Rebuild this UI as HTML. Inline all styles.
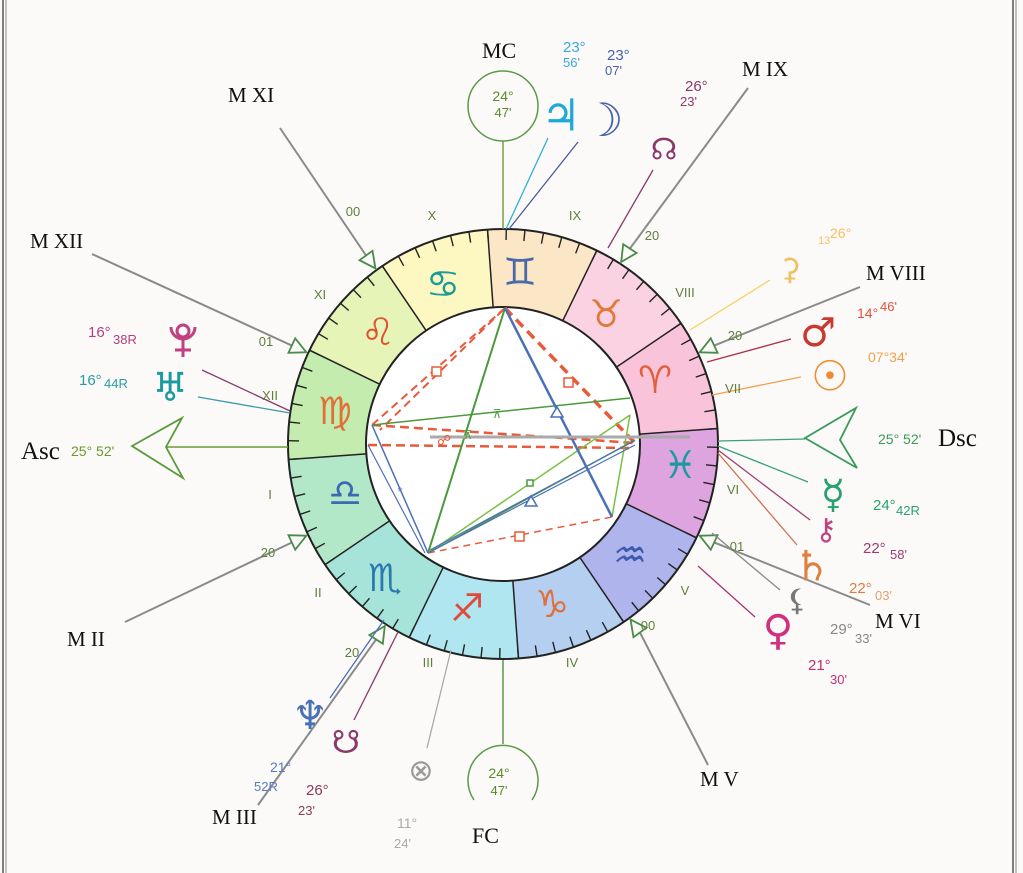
<!DOCTYPE html>
<html><head><meta charset="utf-8"><style>
html,body{margin:0;padding:0;background:#fbfaf8;}
svg{display:block}
.lab{font-family:"Liberation Serif",serif;font-size:21px;fill:#111}
.s{font-family:"Liberation Sans",sans-serif;font-size:13px}
.h{font-family:"Liberation Sans",sans-serif;font-size:13px;fill:#5f7f3a}
.g{font-family:"DejaVu Sans",sans-serif;text-anchor:middle;dominant-baseline:central}
</style></head><body>
<svg id="c" width="1023" height="873" viewBox="0 0 1023 873" xmlns="http://www.w3.org/2000/svg">
<rect width="1023" height="873" fill="#fbfaf8"/>
<line x1="3" y1="0" x2="3" y2="873" stroke="#555" stroke-width="1.5"/>
<line x1="6" y1="0" x2="6" y2="873" stroke="#888" stroke-width="1"/>
<line x1="1013" y1="0" x2="1013" y2="873" stroke="#555" stroke-width="1.5"/>
<line x1="1016" y1="0" x2="1016" y2="873" stroke="#888" stroke-width="1"/>
<g id="ring"></g>
<g id="asp" fill="none">
 <line x1="505" y1="308" x2="372" y2="425" stroke="#e85a3a" stroke-width="2" stroke-dasharray="8,5"/>
 <line x1="503" y1="310" x2="380" y2="430" stroke="#e85a3a" stroke-width="2" stroke-dasharray="8,5"/>
 <line x1="505" y1="308" x2="635" y2="443" stroke="#e85a3a" stroke-width="3.5" stroke-dasharray="10,6"/>
 <line x1="372" y1="425" x2="635" y2="443" stroke="#e85a3a" stroke-width="2.5" stroke-dasharray="9,5"/>
 <line x1="368" y1="445" x2="633" y2="448" stroke="#e85a3a" stroke-width="2.5" stroke-dasharray="9,5"/>
 <line x1="428" y1="553" x2="612" y2="517" stroke="#e85a3a" stroke-width="1.5" stroke-dasharray="7,5"/>
 <line x1="505" y1="308" x2="428" y2="553" stroke="#4a9a3a" stroke-width="2"/>
 <line x1="372" y1="425" x2="630" y2="398" stroke="#4a9a3a" stroke-width="1.5"/>
 <line x1="428" y1="553" x2="630" y2="415" stroke="#7ac040" stroke-width="1.5"/>
 <line x1="428" y1="553" x2="635" y2="440" stroke="#4a9a3a" stroke-width="1.5"/>
 <line x1="612" y1="517" x2="630" y2="415" stroke="#7ac040" stroke-width="1.5"/>
 <line x1="505" y1="308" x2="612" y2="517" stroke="#4a70b8" stroke-width="2.5"/>
 <line x1="372" y1="425" x2="428" y2="553" stroke="#4a70b8" stroke-width="1.5"/>
 <line x1="368" y1="445" x2="425" y2="553" stroke="#4a70b8" stroke-width="1.2"/>
 <line x1="428" y1="553" x2="635" y2="445" stroke="#4a70b8" stroke-width="1.2"/>
 <line x1="430" y1="550" x2="634" y2="441" stroke="#4a70b8" stroke-width="1.2"/>
 <line x1="430" y1="437" x2="690" y2="437" stroke="#aaa" stroke-width="3"/>
 <rect x="432" y="367" width="9" height="9" stroke="#e85a3a" stroke-width="1.5" fill="#fff"/>
 <rect x="564" y="378" width="9" height="9" stroke="#e85a3a" stroke-width="1.5" fill="#fff"/>
 <rect x="515" y="532" width="9" height="9" stroke="#e85a3a" stroke-width="1.5" fill="#fff"/>
 <polygon points="557,407 551,417 563,417" stroke="#4a70b8" stroke-width="1.5" fill="#fff"/>
 <polygon points="531,496 525,506 537,506" stroke="#4a70b8" stroke-width="1.5" fill="#fff"/>
 <rect x="527" y="480" width="6" height="6" stroke="#4a9a3a" stroke-width="1.5" fill="#fff"/>
 <text x="437" y="445" class="s" fill="#e85a3a" style="font-size:14px">☍</text>
 <text x="497" y="418" class="s" fill="#4a9a3a" style="font-size:12px" text-anchor="middle">⊼</text>
 <text x="468" y="439" class="s" fill="#4a9a3a" style="font-size:12px" text-anchor="middle">⊼</text>
 <text x="400" y="496" class="s" fill="#4a70b8" style="font-size:13px" text-anchor="middle">*</text>
</g>
<g id="marks"></g>
<g stroke-width="1.3" fill="none">
 <line x1="506" y1="229" x2="548" y2="138" stroke="#30b0d8"/>
 <line x1="509" y1="229" x2="578" y2="142" stroke="#4a5a98"/>
 <line x1="608" y1="248" x2="653" y2="170" stroke="#8a3a6a"/>
 <line x1="690" y1="330" x2="770" y2="280" stroke="#f5d060"/>
 <line x1="707" y1="362" x2="791" y2="339" stroke="#a83040"/>
 <line x1="712" y1="395" x2="801" y2="377" stroke="#f0a050"/>
 <line x1="718" y1="441" x2="805" y2="439" stroke="#3aa080"/>
 <line x1="718" y1="446" x2="808" y2="482" stroke="#3aa080"/>
 <line x1="718" y1="450" x2="810" y2="520" stroke="#a04070"/>
 <line x1="718" y1="453" x2="797" y2="545" stroke="#d07050"/>
 <line x1="712" y1="533" x2="780" y2="590" stroke="#888"/>
 <line x1="698" y1="566" x2="755" y2="617" stroke="#b03070"/>
 <line x1="290" y1="411" x2="202" y2="370" stroke="#8a3a6a"/>
 <line x1="290" y1="413" x2="198" y2="397" stroke="#3a9aa8"/>
 <line x1="384" y1="620" x2="330" y2="698" stroke="#4a70b8"/>
 <line x1="398" y1="632" x2="354" y2="720" stroke="#8a3a6a"/>
 <line x1="451" y1="650" x2="427" y2="748" stroke="#aaa"/>
</g>
<line x1="503" y1="141" x2="503" y2="229" stroke="#7aa040" stroke-width="1.5"/>
<circle cx="503" cy="106" r="35" fill="none" stroke="#5a9a4a" stroke-width="1.5"/>
<text x="503" y="101" class="s" fill="#5a8a2a" text-anchor="middle" style="font-size:14px">24°</text>
<text x="503" y="117" class="s" fill="#5a8a2a" text-anchor="middle" style="font-size:13px">47'</text>
<line x1="503" y1="660" x2="503" y2="744" stroke="#5a9a4a" stroke-width="1.5"/>
<path d="M 474 800 A 35 35 0 1 1 532 800" fill="none" stroke="#5a9a4a" stroke-width="1.5"/>
<text x="499" y="778" class="s" fill="#5a8a2a" text-anchor="middle" style="font-size:14px">24°</text>
<text x="499" y="795" class="s" fill="#5a8a2a" text-anchor="middle" style="font-size:13px">47'</text>
<line x1="166" y1="447" x2="288" y2="447" stroke="#6a9a3a" stroke-width="1.5"/>
<polygon points="132,446 182,418 166,447 183,478" fill="none" stroke="#5a9a3a" stroke-width="1.8"/>
<polygon points="805,438 856,408 840,440 857,468" fill="none" stroke="#3a9a5a" stroke-width="1.8"/>
<text x="482" y="58" class="lab" style="font-size:22px">MC</text>
<text x="228" y="102" class="lab">M XI</text>
<text x="742" y="76" class="lab">M IX</text>
<text x="30" y="248" class="lab">M XII</text>
<text x="866" y="280" class="lab">M VIII</text>
<text x="21" y="459" class="lab" style="font-size:25px">Asc</text>
<text x="938" y="446" class="lab" style="font-size:25px">Dsc</text>
<text x="67" y="646" class="lab">M II</text>
<text x="875" y="628" class="lab">M VI</text>
<text x="212" y="824" class="lab">M III</text>
<text x="700" y="786" class="lab">M V</text>
<text x="472" y="843" class="lab" style="font-size:22px">FC</text>
<text x="432" y="220" class="h" text-anchor="middle">X</text>
<text x="575" y="220" class="h" text-anchor="middle">IX</text>
<text x="320" y="299" class="h" text-anchor="middle">XI</text>
<text x="685" y="297" class="h" text-anchor="middle">VIII</text>
<text x="270" y="400" class="h" text-anchor="middle">XII</text>
<text x="733" y="393" class="h" text-anchor="middle">VII</text>
<text x="270" y="499" class="h" text-anchor="middle">I</text>
<text x="733" y="494" class="h" text-anchor="middle">VI</text>
<text x="318" y="597" class="h" text-anchor="middle">II</text>
<text x="685" y="595" class="h" text-anchor="middle">V</text>
<text x="428" y="667" class="h" text-anchor="middle">III</text>
<text x="572" y="667" class="h" text-anchor="middle">IV</text>
<text x="353" y="216" class="h" text-anchor="middle">00</text>
<text x="266" y="346" class="h" text-anchor="middle">01</text>
<text x="268" y="557" class="h" text-anchor="middle">20</text>
<text x="352" y="657" class="h" text-anchor="middle">20</text>
<text x="648" y="630" class="h" text-anchor="middle">00</text>
<text x="737" y="551" class="h" text-anchor="middle">01</text>
<text x="735" y="340" class="h" text-anchor="middle">20</text>
<text x="652" y="240" class="h" text-anchor="middle">20</text>
<g class="g" font-size="38">
 <text x="655" y="380" fill="#e0603a">♈&#xFE0E;</text>
 <text x="606" y="314" fill="#e07a3a">♉&#xFE0E;</text>
 <text x="520" y="272" fill="#4a6aa8">♊&#xFE0E;</text>
 <text x="443" y="284" fill="#1a9a9a">♋&#xFE0E;</text>
 <text x="378" y="332" fill="#e05030">♌&#xFE0E;</text>
 <text x="335" y="411" fill="#e0703a">♍&#xFE0E;</text>
 <text x="345" y="493" fill="#3a6ab0">♎&#xFE0E;</text>
 <text x="385" y="578" fill="#2a7ab0">♏&#xFE0E;</text>
 <text x="467" y="608" fill="#e04a3a">♐&#xFE0E;</text>
 <text x="552" y="604" fill="#e0703a">♑&#xFE0E;</text>
 <text x="630" y="555" fill="#3a5ab0">♒&#xFE0E;</text>
 <text x="680" y="465" fill="#1a9aa0">♓&#xFE0E;</text>
</g>
<g class="g">
 <text x="561" y="116" fill="#20a8d8" font-size="44">♃&#xFE0E;</text>
 <text x="603" y="120" fill="#4a62a8" font-size="46" font-weight="bold">☽&#xFE0E;</text>
 <text x="664" y="150" fill="#8a3a6a" font-size="30">☊&#xFE0E;</text>
 <text x="790" y="270" fill="#f0c060" font-size="30">⚳&#xFE0E;</text>
 <text x="818" y="333" fill="#c83a30" font-size="40">♂&#xFE0E;</text>
 <text x="830" y="376" fill="#f08a30" font-size="42">☉&#xFE0E;</text>
 <text x="833" y="495" fill="#2aa070" font-size="40">☿&#xFE0E;</text>
 <text x="826" y="530" fill="#c04080" font-size="30">⚷&#xFE0E;</text>
 <text x="812" y="566" fill="#e08040" font-size="42">♄&#xFE0E;</text>
 <text x="797" y="601" fill="#777" font-size="30">⚸&#xFE0E;</text>
 <text x="778" y="630" fill="#d03080" font-size="42">♀&#xFE0E;</text>
 <text x="170" y="388" fill="#1a9aa0" font-size="40">♅&#xFE0E;</text>
 <text x="310" y="716" fill="#4a70b8" font-size="40">♆&#xFE0E;</text>
 <text x="346" y="742" fill="#8a3a6a" font-size="32">☋&#xFE0E;</text>
 <text x="421" y="771" fill="#999" font-size="30">⊗</text>
</g>
<g fill="none" stroke="#c04080" stroke-width="3">
 <circle cx="183" cy="331" r="6"/>
 <path d="M171 327 A12 12 0 0 0 195 327"/>
 <line x1="183" y1="339" x2="183" y2="357"/>
 <line x1="175" y1="350" x2="191" y2="350"/>
</g>
<g class="s">
 <text x="563" y="52" fill="#3aa8d8" style="font-size:15px">23°</text>
 <text x="563" y="67" fill="#3aa8d8">56'</text>
 <text x="607" y="60" fill="#4a62a8" style="font-size:15px">23°</text>
 <text x="605" y="75" fill="#4a62a8">07'</text>
 <text x="685" y="91" fill="#8a3a6a" style="font-size:15px">26°</text>
 <text x="680" y="106" fill="#8a3a6a">23'</text>
 <text x="818" y="244" fill="#f5c060" style="font-size:11px">13</text>
 <text x="830" y="238" fill="#f5c060" style="font-size:14px">26°</text>
 <text x="857" y="318" fill="#e0503a" style="font-size:14px">14°</text>
 <text x="880" y="311" fill="#e0503a">46'</text>
 <text x="868" y="362" fill="#f0a050" style="font-size:14px">07°34'</text>
 <text x="878" y="444" fill="#3a9a5a" style="font-size:14px">25° 52'</text>
 <text x="873" y="510" fill="#2aa070" style="font-size:15px">24°</text>
 <text x="896" y="515" fill="#2aa070">42R</text>
 <text x="863" y="553" fill="#a03a70" style="font-size:15px">22°</text>
 <text x="890" y="559" fill="#a03a70">58'</text>
 <text x="849" y="593" fill="#e07a40" style="font-size:15px">22°</text>
 <text x="875" y="600" fill="#e0a070">03'</text>
 <text x="830" y="634" fill="#888" style="font-size:15px">29°</text>
 <text x="855" y="643" fill="#888">33'</text>
 <text x="808" y="670" fill="#c03070" style="font-size:15px">21°</text>
 <text x="830" y="684" fill="#c03070">30'</text>
 <text x="88" y="337" fill="#b04080" style="font-size:15px">16°</text>
 <text x="113" y="344" fill="#b04080">38R</text>
 <text x="79" y="385" fill="#2a9aa8" style="font-size:15px">16°</text>
 <text x="104" y="388" fill="#2a9aa8">44R</text>
 <text x="71" y="456" fill="#6a9a2a" style="font-size:14px">25°  52'</text>
 <text x="270" y="772" fill="#5a7ac0" style="font-size:14px">21°</text>
 <text x="254" y="791" fill="#5a7ac0">52R</text>
 <text x="306" y="795" fill="#8a3a5a" style="font-size:15px">26°</text>
 <text x="298" y="815" fill="#8a3a5a">23'</text>
 <text x="397" y="828" fill="#aaa" style="font-size:14px">11°</text>
 <text x="394" y="848" fill="#aaa">24'</text>
</g>
<script>
(function(){
var NS="http://www.w3.org/2000/svg",cx=503,cy=444,R=215,r=137;
function P(rad,deg){var a=deg*Math.PI/180;return [cx+rad*Math.cos(a),cy-rad*Math.sin(a)];}
function el(g,n,at){var e=document.createElementNS(NS,n);for(var k in at)e.setAttribute(k,at[k]);g.appendChild(e);return e;}
var ring=document.getElementById("ring");
var cols=["#f9c4da","#fbd2e2","#fbe6c6","#fdf8c2","#e6f4b8","#c4ecae","#b2e8c8","#a6e4da","#b0e6f0","#b4cff0","#b0b4ec","#dda4df"];
el(ring,"circle",{cx:cx,cy:cy,r:R,fill:"#fff"});
for(var k=0;k<12;k++){
 var a0=30*k+4.13,a1=a0+30;
 var p0=P(R,a0),p1=P(R,a1),q1=P(r,a1),q0=P(r,a0);
 el(ring,"path",{d:"M"+p0+" A"+R+" "+R+" 0 0 0 "+p1+" L"+q1+" A"+r+" "+r+" 0 0 1 "+q0+"Z",fill:cols[k],stroke:"none"});
}
for(var k=0;k<12;k++){var a=30*k+4.13,p=P(R,a),q=P(r,a);el(ring,"line",{x1:p[0],y1:p[1],x2:q[0],y2:q[1],stroke:"#222","stroke-width":1.5});}
for(var d=0;d<360;d+=5){var a=d+4.13,p=P(R,a),q=P(R-11,a);el(ring,"line",{x1:p[0],y1:p[1],x2:q[0],y2:q[1],stroke:"#222","stroke-width":1.4});}
el(ring,"circle",{cx:cx,cy:cy,r:R,fill:"none",stroke:"#222","stroke-width":2});
el(ring,"circle",{cx:cx,cy:cy,r:r,fill:"#fff",stroke:"#222","stroke-width":2});
var m=document.getElementById("marks");
var hs=[[126,[280,128]],[155,[92,254]],[205,[125,622]],[237,[258,805]],[306,[708,765]],[335,[870,605]],[25,[860,287]],[57,[748,88]]];
hs.forEach(function(h){
 var a=h[0],t=P(R+2,a),b=P(R+18,a),ar=a*Math.PI/180,px=Math.sin(ar)*8,py=Math.cos(ar)*8;
 el(m,"line",{x1:b[0],y1:b[1],x2:h[1][0],y2:h[1][1],stroke:"#8a8a8a","stroke-width":2});
 el(m,"polygon",{points:t[0]+","+t[1]+" "+(b[0]+px)+","+(b[1]+py)+" "+(b[0]-px)+","+(b[1]-py),fill:"#fbfaf8",stroke:"#4a8a4a","stroke-width":1.8});
});
})();
</script>
</svg>
</body></html>
